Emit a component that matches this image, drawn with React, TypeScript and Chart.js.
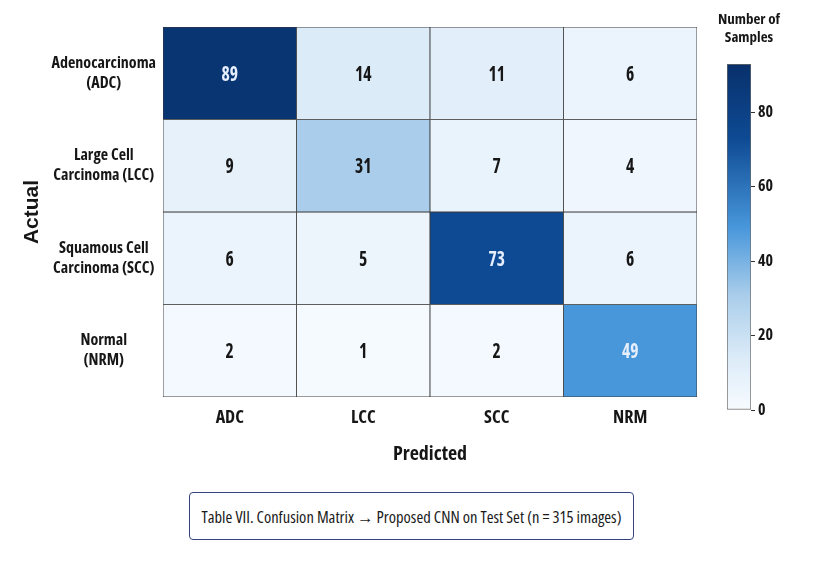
import React, { useEffect, useRef } from "react";
import { Chart, registerables } from "chart.js";

Chart.register(...registerables);

// ---- data ----
const predictedLabels = ["ADC", "LCC", "SCC", "NRM"];
const actualLabels = [
  ["Adenocarcinoma", "(ADC)"],
  ["Large Cell", "Carcinoma (LCC)"],
  ["Squamous Cell", "Carcinoma (SCC)"],
  ["Normal", "(NRM)"],
];
const rowADC = [89, 14, 11, 6];
const rowLCC = [9, 31, 7, 4];
const rowSCC = [6, 5, 73, 6];
const rowNRM = [2, 1, 2, 49];
const counts = [rowADC, rowLCC, rowSCC, rowNRM];
const colorbarTicks = [0, 20, 40, 60, 80];
const colorbarMax = 93;

// ---- style ----
const COND = "'Open Sans', Roboto, sans-serif";
const BOLD_COND = "bold condensed";
const STOPS: [number, number[]][] = [
  [0, [247, 251, 255]],
  [0.15, [220, 235, 248]],
  [0.333, [169, 205, 234]],
  [0.527, [72, 151, 219]],
  [0.785, [14, 74, 147]],
  [1, [8, 48, 107]],
];
function cmap(t: number): string {
  const tt = Math.max(0, Math.min(1, t));
  for (let i = 1; i < STOPS.length; i++) {
    const [t1, c1] = STOPS[i];
    const [t0, c0] = STOPS[i - 1];
    if (tt <= t1) {
      const f = (tt - t0) / (t1 - t0);
      const c = c0.map((v, k) => Math.round(v + (c1[k] - v) * f));
      return `rgb(${c[0]},${c[1]},${c[2]})`;
    }
  }
  const c = STOPS[STOPS.length - 1][1];
  return `rgb(${c[0]},${c[1]},${c[2]})`;
}

const cellText = {
  id: "cellText",
  afterDatasetsDraw(chart: any) {
    const ctx = chart.ctx;
    chart.data.datasets.forEach((_ds: any, r: number) => {
      const meta = chart.getDatasetMeta(r);
      meta.data.forEach((el: any, c: number) => {
        const v = counts[r][c];
        const p = el.getCenterPoint();
        ctx.save();
        ctx.font = `${BOLD_COND} 22px ${COND}`;
        ctx.textAlign = "center";
        ctx.textBaseline = "middle";
        ctx.fillStyle = v > 40 ? "#e6effb" : "#161616";
        ctx.translate(p.x, p.y + 1);
        ctx.scale(0.8, 1);
        ctx.fillText(String(v), 0, 0);
        ctx.restore();
      });
    });
  },
};

export default function App() {
  const mainRef = useRef<HTMLCanvasElement>(null);
  const cbRef = useRef<HTMLCanvasElement>(null);

  useEffect(() => {
    const main = new Chart(mainRef.current!, {
      type: "bar",
      data: {
        labels: predictedLabels,
        datasets: counts.map((row, r) => ({
          label: actualLabels[r].join(" "),
          data: row.map(() => [r, r + 1]) as any,
          backgroundColor: row.map((v) => cmap(v / colorbarMax)),
          borderColor: "#3a3a3a",
          borderWidth: 0.8,
          borderSkipped: false,
          barPercentage: 1,
          categoryPercentage: 1,
          grouped: false,
        })),
      },
      options: {
        animation: false,
        responsive: false,
        maintainAspectRatio: false,
        layout: { padding: { left: 0, top: 24, right: 20, bottom: 0 } },
        plugins: { legend: { display: false }, tooltip: { enabled: false } },
        scales: {
          x: {
            type: "category",
            grid: { display: false, drawTicks: false },
            border: { display: false },
            ticks: { color: "#161616", font: { family: COND, size: 18, weight: BOLD_COND as any }, padding: 10 },
            title: {
              display: true,
              text: "Predicted",
              color: "#161616",
              font: { family: COND, size: 20, weight: BOLD_COND as any },
              padding: { top: 0, bottom: 14 },
            },
            afterFit: (s: any) => {
              s.height = 83;
            },
          },
          y: {
            type: "linear",
            min: 0,
            max: 4,
            reverse: true,
            grid: { display: false, drawTicks: false },
            border: { display: false },
            afterBuildTicks: (s: any) => {
              s.ticks = actualLabels.map((_l, i) => ({ value: i + 0.5 }));
            },
            ticks: {
              crossAlign: "center",
              padding: 7,
              color: "#161616",
              font: { family: COND, size: 16, weight: BOLD_COND as any, lineHeight: 1.25 },
              callback: (v: any) => actualLabels[Math.floor(Number(v))] ?? "",
            },
            title: {
              display: true,
              text: "Actual",
              color: "#161616",
              font: { family: "'Liberation Sans', Arial, sans-serif", size: 21, weight: "bold" },
              padding: { top: 20, bottom: 0 },
            },
            afterFit: (s: any) => {
              s.width = 163;
            },
          },
        },
      },
      plugins: [cellText],
    });

    const cb = new Chart(cbRef.current!, {
      type: "bar",
      data: {
        labels: [""],
        datasets: [
          {
            data: [colorbarMax],
            backgroundColor: (ctx: any) => {
              const chart = ctx.chart;
              if (!chart.chartArea) return "#fff";
              const y = chart.scales.y;
              const g = chart.ctx.createLinearGradient(0, y.getPixelForValue(0), 0, y.getPixelForValue(colorbarMax));
              STOPS.forEach(([t, c]) => g.addColorStop(t, `rgb(${c[0]},${c[1]},${c[2]})`));
              return g;
            },
            borderColor: "#6a6a6a",
            borderWidth: 1,
            borderSkipped: false,
            barPercentage: 1,
            categoryPercentage: 1,
          },
        ],
      },
      options: {
        animation: false,
        responsive: false,
        maintainAspectRatio: false,
        layout: { padding: { left: 27, top: 14, right: 26, bottom: 20 } },
        plugins: { legend: { display: false }, tooltip: { enabled: false } },
        scales: {
          x: { display: false },
          y: {
            position: "right",
            min: 0,
            max: colorbarMax,
            afterBuildTicks: (s: any) => {
              s.ticks = colorbarTicks.map((v) => ({ value: v }));
            },
            grid: { drawOnChartArea: false, drawTicks: true, tickLength: 4, color: "#333" },
            border: { display: false },
            ticks: { color: "#161616", padding: 3, font: { family: COND, size: 16, weight: BOLD_COND as any } },
            afterFit: (s: any) => {
              s.width = 40;
            },
          },
        },
      },
    });

    return () => {
      main.destroy();
      cb.destroy();
    };
  }, []);

  return (
    <div style={{ position: "fixed", left: 0, top: 0, width: 817, height: 583, background: "#fff" }}>
      <canvas ref={mainRef} width={717} height={480} style={{ position: "absolute", left: 0, top: 0, width: 717, height: 480 }} />
      <canvas ref={cbRef} width={117} height={380} style={{ position: "absolute", left: 700, top: 50, width: 117, height: 380 }} />
      <div
        style={{
          position: "absolute",
          left: 700,
          top: 9,
          width: 98,
          textAlign: "center",
          fontFamily: COND,
          fontStretch: "condensed",
          fontWeight: "bold",
          fontSize: 15,
          lineHeight: "18px",
          color: "#161616",
        }}
      >
        Number of
        <br />
        Samples
      </div>
      <div
        style={{
          position: "absolute",
          left: 189,
          top: 492,
          width: 445,
          height: 48,
          boxSizing: "border-box",
          border: "1.5px solid #34437f",
          borderRadius: 4,
          display: "flex",
          alignItems: "center",
          justifyContent: "center",
          fontFamily: COND,
          fontStretch: "condensed",
          fontWeight: 500,
          fontSize: 16.5,
          color: "#1a1a1a",
          whiteSpace: "nowrap",
        }}
      >
        Table VII. Confusion Matrix → Proposed CNN on Test Set (n = 315 images)
      </div>
    </div>
  );
}
